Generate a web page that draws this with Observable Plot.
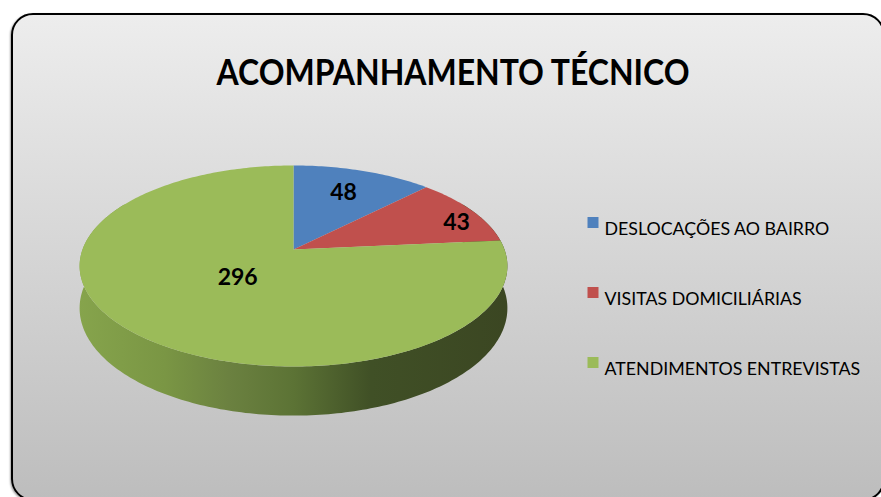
<!DOCTYPE html>
<html><head><meta charset="utf-8">
<script src="https://cdn.jsdelivr.net/npm/d3@7"></script>
<script src="https://cdn.jsdelivr.net/npm/@observablehq/plot@0.6"></script>
<style>
html,body{margin:0;padding:0;background:#fff;overflow:hidden;}
#wrap{position:relative;width:881px;height:497px;overflow:hidden;}
#frame{position:absolute;left:11px;top:13px;width:874px;height:488px;box-sizing:border-box;border:2px solid #000;border-radius:22px;background:linear-gradient(#ededed,#bdbdbd);box-shadow:-1px 1px 2px rgba(0,0,0,.35);}
#chart{position:absolute;left:0;top:0;}
</style></head><body>
<div id="wrap"><div id="frame"></div><div id="chart"></div></div>
<script>
const title = "ACOMPANHAMENTO TÉCNICO";
const categories = ["DESLOCAÇÕES AO BAIRRO", "VISITAS DOMICILIÁRIAS", "ATENDIMENTOS ENTREVISTAS"];
const values = [48, 43, 296];
const colors = ["#4F81BD", "#C0504D", "#9BBB59"];

// 3D perspective geometry (layout)
const K = 0.164, DEPTH = 0.42, rad = Math.PI / 180;
function proj(a, r, t) {
  const u = r * Math.sin(a), v = r * Math.cos(a), w = 1 + K * v;
  return {x: u / w, y: (v - t * DEPTH) / w};
}
const arcs = d3.pie().sort(null).value(d => d)(values);
const slicePts = arcs.flatMap((a, i) => {
  const pts = [{...proj(0, 0, 0), cat: categories[i]}];
  const n = Math.max(2, Math.ceil((a.endAngle - a.startAngle) / rad));
  for (let j = 0; j <= n; j++) {
    const ang = a.startAngle + (a.endAngle - a.startAngle) * j / n;
    pts.push({...proj(ang, 1, 0), cat: categories[i]});
  }
  return pts;
});
const sidePts = [];
for (let d = 60; d <= 300; d++) sidePts.push(proj(d * rad, 1, 0));
for (let d = 300; d >= 60; d--) sidePts.push(proj(d * rad, 1, 1));
// label placement: fraction along slice angle, radius fraction
const labelAt = [{f: 0.5, r: 0.69}, {f: 0.64, r: 0.86}, {f: 0.5, r: 0.375}];
const labels = arcs.map((a, i) => ({
  ...proj(a.startAngle + (a.endAngle - a.startAngle) * labelAt[i].f, labelAt[i].r, 0),
  text: String(values[i])
}));

const plot = Plot.plot({
  width: 881, height: 497, margin: 0,
  style: {background: "transparent", overflow: "visible", fontFamily: "Lato"},
  x: {domain: [-1, 1], range: [82, 504], axis: null},
  y: {domain: [-1, 1], range: [346.8, 151.2], axis: null},
  color: {domain: categories, range: colors},
  marks: [
    Plot.line(sidePts, {x: "x", y: "y", fill: "url(#sideGrad)", stroke: "none"}),
    Plot.line(slicePts, {x: "x", y: "y", z: "cat", fill: "cat", stroke: "none"}),
    Plot.text(labels, {x: "x", y: "y", text: "text", fontSize: 23, fontWeight: "bold", fill: "#000"}),
    Plot.text([title], {text: d => d, frameAnchor: "top", dx: 12, dy: 58, fontSize: 37, fontWeight: "bold", fill: "#000", className: "ttl"}),
    ...categories.flatMap((c, i) => [
      Plot.dot([c], {frameAnchor: "top-left", dx: 592.5, dy: 222 + 70 * i, symbol: "square", r: 6.2, fill: d => d, stroke: "none"}),
      Plot.text([c], {text: d => d, frameAnchor: "top-left", dx: 604, dy: 222 + 70 * i, textAnchor: "start", fontSize: 17.8, fill: "#000", className: "leg"})
    ])
  ]
});

const sx = plot.scale("x");
const grad = d3.select(plot).insert("defs", ":first-child").append("linearGradient")
  .attr("id", "sideGrad").attr("gradientUnits", "userSpaceOnUse")
  .attr("x1", sx.apply(-1.02)).attr("x2", sx.apply(1.02)).attr("y1", 0).attr("y2", 0);
[[0, "#86a44c"], [0.2, "#7a9644"], [0.35, "#6b8140"], [0.5, "#5c7335"], [0.68, "#405026"], [1, "#3b4622"]]
  .forEach(([o, c]) => grad.append("stop").attr("offset", o).attr("stop-color", c));

d3.select(plot).selectAll("g.ttl text").attr("textLength", 473).attr("lengthAdjust", "spacingAndGlyphs");

document.getElementById("chart").appendChild(plot);
</script>
</body></html>
